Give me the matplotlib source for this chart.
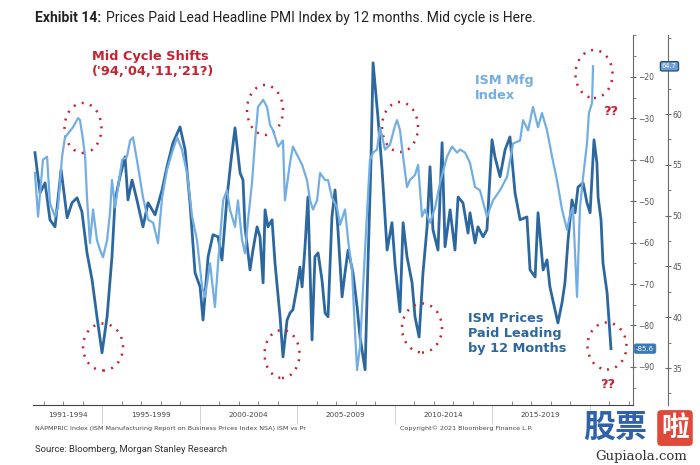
import matplotlib

matplotlib.use("Agg")
import matplotlib.pyplot as plt
from matplotlib.patches import Ellipse
from matplotlib.ticker import MultipleLocator
from matplotlib.transforms import blended_transform_factory

# ============================================================================
# Data
# ============================================================================

# ISM Prices Paid, shifted 12 months forward, plotted inverted (inner axis)
prices_year = [
    1991.56, 1991.82, 1992.08, 1992.33, 1992.59, 1992.90, 1993.21, 1993.46,
    1993.72, 1993.97, 1994.23, 1994.49, 1994.74, 1995.00, 1995.26, 1995.51,
    1995.67, 1995.92, 1996.18, 1996.33, 1996.54, 1996.79, 1997.10, 1997.36,
    1997.72, 1998.08, 1998.33, 1998.64, 1999.00, 1999.26, 1999.51, 1999.77,
    2000.03, 2000.18, 2000.44, 2000.69, 2000.95, 2001.15, 2001.41, 2001.62,
    2001.82, 2002.08, 2002.23, 2002.33, 2002.59, 2002.74, 2002.95, 2003.10,
    2003.26, 2003.36, 2003.51, 2003.72, 2003.87, 2004.13, 2004.28, 2004.49,
    2004.64, 2004.79, 2005.00, 2005.15, 2005.26, 2005.41, 2005.56, 2005.77,
    2005.92, 2006.08, 2006.28, 2006.44, 2006.59, 2006.79, 2006.95, 2007.10,
    2007.31, 2007.46, 2007.62, 2007.87, 2008.08, 2008.23, 2008.49, 2008.64,
    2008.79, 2008.90, 2009.15, 2009.36, 2009.62, 2009.87, 2010.03, 2010.28,
    2010.44, 2010.64, 2010.90, 2011.05, 2011.26, 2011.46, 2011.67, 2011.82,
    2011.97, 2012.23, 2012.44, 2012.59, 2012.85, 2013.10, 2013.26, 2013.51,
    2013.77, 2013.87, 2014.13, 2014.28, 2014.54, 2014.74, 2015.00, 2015.15,
    2015.41, 2015.67, 2015.92, 2016.18, 2016.44, 2016.79, 2016.95, 2017.21,
    2017.36, 2017.62, 2017.82, 2017.97, 2018.23, 2018.38, 2018.59, 2018.74,
    2018.90, 2019.10, 2019.26, 2019.41, 2019.67, 2019.87, 2020.03, 2020.23,
    2020.38, 2020.44, 2020.59, 2020.69, 2020.90, 2021.10,
]
prices_val = [
    -38.3, -48.0, -45.6, -54.5, -56.2, -42.4, -54.0, -50.4,
    -49.2, -52.6, -62.5, -69.0, -77.9, -86.6, -77.9, -63.4,
    -49.7, -44.1, -39.3, -49.7, -44.9, -49.7, -56.2, -50.4,
    -53.3, -47.3, -41.7, -35.9, -32.1, -37.6, -50.4, -67.3,
    -70.7, -78.7, -63.4, -58.1, -58.6, -64.2, -49.0, -40.0,
    -32.3, -43.2, -44.9, -56.2, -66.6, -61.8, -56.2, -58.6,
    -69.7, -52.1, -56.2, -54.5, -64.9, -77.9, -87.6, -78.7,
    -77.0, -76.2, -70.7, -65.9, -70.7, -61.0, -49.0, -83.5,
    -63.4, -62.5, -69.0, -77.0, -77.9, -53.8, -47.3, -56.9,
    -73.1, -67.3, -61.8, -67.3, -75.5, -82.8, -90.7, -64.9,
    -40.8, -16.6, -29.7, -42.4, -61.8, -55.2, -65.4, -76.7,
    -55.2, -63.4, -69.7, -77.9, -82.8, -67.3, -56.2, -41.7,
    -56.9, -61.8, -35.9, -61.0, -52.1, -61.8, -49.0, -50.4,
    -57.7, -52.8, -60.1, -56.2, -58.6, -56.9, -35.2, -39.3,
    -44.1, -37.6, -34.5, -48.0, -54.5, -53.8, -66.6, -68.3,
    -52.8, -66.6, -64.2, -70.7, -76.2, -79.4, -74.5, -69.7,
    -59.3, -49.7, -52.8, -46.6, -45.6, -50.4, -52.8, -35.2,
    -40.8, -49.0, -54.5, -64.9, -72.1, -85.6,
]

# ISM Manufacturing index (outer axis)
ism_year = [
    1991.56, 1991.72, 1991.97, 1992.18, 1992.33, 1992.59, 1992.74, 1992.95,
    1993.10, 1993.51, 1993.77, 1993.87, 1994.03, 1994.13, 1994.23, 1994.38,
    1994.54, 1994.74, 1994.90, 1995.05, 1995.26, 1995.41, 1995.51, 1995.67,
    1995.82, 1996.03, 1996.28, 1996.44, 1996.59, 1996.85, 1997.10, 1997.36,
    1997.62, 1997.87, 1998.08, 1998.33, 1998.59, 1998.85, 1999.10, 1999.36,
    1999.62, 1999.87, 2000.13, 2000.28, 2000.54, 2000.79, 2000.95, 2001.21,
    2001.41, 2001.56, 2001.82, 2001.97, 2002.18, 2002.33, 2002.49, 2002.69,
    2002.85, 2003.00, 2003.26, 2003.46, 2003.62, 2003.77, 2004.03, 2004.28,
    2004.38, 2004.64, 2004.79, 2005.00, 2005.26, 2005.51, 2005.67, 2005.82,
    2006.03, 2006.18, 2006.44, 2006.59, 2006.79, 2007.05, 2007.21, 2007.46,
    2007.62, 2007.82, 2007.97, 2008.08, 2008.23, 2008.38, 2008.59, 2008.74,
    2008.90, 2009.10, 2009.26, 2009.51, 2009.77, 2010.03, 2010.13, 2010.28,
    2010.44, 2010.64, 2010.79, 2011.05, 2011.21, 2011.41, 2011.56, 2011.82,
    2012.08, 2012.33, 2012.69, 2012.95, 2013.21, 2013.36, 2013.62, 2013.87,
    2014.13, 2014.38, 2014.74, 2015.05, 2015.41, 2015.77, 2016.08, 2016.44,
    2016.59, 2016.85, 2017.10, 2017.36, 2017.56, 2017.82, 2018.08, 2018.33,
    2018.59, 2018.85, 2019.00, 2019.15, 2019.36, 2019.51, 2019.67, 2019.87,
    2019.97, 2020.13, 2020.18,
]
ism_val = [
    54.2, 49.9, 55.5, 55.8, 51.2, 49.9, 50.8, 55.8,
    57.7, 58.7, 59.6, 59.4, 57.4, 55.8, 51.8, 47.3,
    50.6, 47.6, 46.6, 45.9, 47.6, 50.3, 53.5, 50.8,
    52.8, 55.5, 55.8, 57.4, 57.7, 54.8, 51.8, 49.6,
    49.3, 47.3, 51.8, 54.5, 56.2, 57.7, 56.5, 54.2,
    49.9, 47.6, 43.0, 42.0, 45.3, 41.0, 45.3, 51.5,
    52.5, 50.6, 48.9, 51.5, 47.6, 46.3, 49.6, 53.2,
    57.4, 60.7, 61.4, 60.7, 58.9, 58.4, 56.8, 57.4,
    51.5, 55.2, 56.8, 56.0, 55.0, 53.5, 51.5, 50.6,
    51.5, 54.2, 53.5, 53.5, 51.8, 50.8, 49.1, 50.6,
    47.6, 44.6, 38.7, 34.8, 37.1, 42.7, 50.3, 55.5,
    56.2, 56.5, 58.7, 56.5, 57.0, 58.9, 59.4, 58.4,
    55.8, 52.8, 53.5, 54.0, 55.0, 49.9, 50.6, 49.3,
    50.8, 53.2, 55.8, 56.8, 56.2, 56.5, 56.2, 55.2,
    52.8, 52.5, 49.9, 51.5, 52.5, 53.8, 57.1, 57.4,
    59.4, 58.4, 60.7, 58.7, 60.1, 58.4, 55.8, 53.5,
    50.6, 48.6, 50.1, 50.8, 42.0, 50.8, 53.8, 57.1,
    60.1, 61.1, 64.7,
]

period_labels = ["1991-1994", "1995-1999", "2000-2004", "2005-2009",
                 "2010-2014", "2015-2019"]
period_centers = [1993.23, 1997.5, 2002.5, 2007.5, 2012.5, 2017.5]

# ============================================================================
# Style
# ============================================================================

W, H = 700, 465
DARK = "#2c679f"
LIGHT = "#72aee3"
RED = "#c8202f"
AXIS_GRAY = "#6a6a6a"
TICK_TXT = "#555555"

fig = plt.figure(figsize=(W / 100, H / 100), dpi=100)

# plot area in pixels: x 33..633, y 35..405
ax = fig.add_axes([33 / W, 1 - 405 / H, 600 / W, 370 / H])
ax2 = ax.twinx()

ax.plot(prices_year, prices_val, color=DARK, linewidth=2.0, zorder=2,
        solid_joinstyle="round")
ax2.plot(ism_year, ism_val, color=LIGHT, linewidth=1.6, zorder=2,
         solid_joinstyle="round")

ax.set_xlim(1991.46, 2022.23)
ax.set_ylim(-99.2, -9.9)
ax2.set_ylim(31.36, 67.78)

for a in (ax, ax2):
    a.spines["top"].set_visible(False)
    a.spines["left"].set_visible(False)
    a.patch.set_visible(False)
ax2.spines["bottom"].set_visible(False)
ax.spines["right"].set_color(AXIS_GRAY)
ax.spines["right"].set_linewidth(0.8)
ax.spines["bottom"].set_color("#444444")
ax.spines["bottom"].set_linewidth(0.8)
ax2.spines["right"].set_position(("outward", 25))
ax2.spines["right"].set_color(AXIS_GRAY)
ax2.spines["right"].set_linewidth(0.8)

# inner axis (prices paid)
ax.yaxis.tick_right()
ax.set_yticks(range(-90, -19, 10))
ax.yaxis.set_minor_locator(MultipleLocator(5))
ax.tick_params(axis="y", which="major", direction="inout", length=4, width=0.8,
               color=AXIS_GRAY, labelsize=5.5, labelcolor=TICK_TXT, pad=1.5)
ax.tick_params(axis="y", which="minor", direction="out", length=2, width=0.6,
               color=AXIS_GRAY)

# outer axis (ISM)
ax2.set_yticks(range(35, 61, 5))
ax2.yaxis.set_minor_locator(MultipleLocator(2.5))
ax2.tick_params(axis="y", which="major", direction="inout", length=4,
                width=0.8, color=AXIS_GRAY, labelsize=5.5,
                labelcolor=TICK_TXT, pad=1.5)
ax2.tick_params(axis="y", which="minor", direction="out", length=2, width=0.6,
                color=AXIS_GRAY)

# x axis: separators every 5 years, small yearly ticks
ax.set_xticks(range(1995, 2021, 5))
ax.xaxis.set_minor_locator(MultipleLocator(1))
ax.tick_params(axis="x", which="major", direction="out", length=14,
               width=0.6, color="#c8c8c8", labelbottom=False)
ax.tick_params(axis="x", which="minor", direction="in", length=3,
               width=0.6, color="#777777")
xtrans = blended_transform_factory(ax.transData, ax.transAxes)
for lab, cx in zip(period_labels, period_centers):
    ax.text(cx, -0.018, lab, transform=xtrans, ha="center", va="top",
            fontsize=5.2, color="#444444", family="DejaVu Sans")

# value tags at the end of each series
tag_trans2 = blended_transform_factory(ax.transAxes, ax2.transData)
ax2.text(1.0 + 29 / 600, ism_val[-1], f"{ism_val[-1]:.1f}", transform=tag_trans2,
         ha="left", va="center", fontsize=4.8, color="white",
         bbox=dict(boxstyle="round,pad=0.25", fc="#6d9fd2", ec="#1f4e79",
                   lw=0.9), zorder=5, clip_on=False)
tag_trans1 = blended_transform_factory(ax.transAxes, ax.transData)
ax.text(1.0 + 3 / 600, prices_val[-1], f"{prices_val[-1]:.1f}",
        transform=tag_trans1, ha="left", va="center", fontsize=5,
        color="white",
        bbox=dict(boxstyle="round,pad=0.25", fc="#3c78b4", ec="#3c78b4",
                  lw=0.5), zorder=5, clip_on=False)

# dotted red circles (pixel centre / size in the reference)
circle_px = [
    (83, 128, 37, 50), (103, 347, 40, 47), (265, 110, 36, 50),
    (282, 354, 35, 48), (400, 127, 36, 50), (422, 328, 40, 49),
    (594, 74, 37, 48), (607, 346, 39, 47),
]
for cx, cy, w, h in circle_px:
    ax.add_patch(Ellipse(((cx - 33) / 600, 1 - (cy - 35) / 370),
                         w / 600, h / 370, transform=ax.transAxes,
                         fill=False, edgecolor=RED, linewidth=1.8,
                         linestyle=(0, (0.8, 2.6)), zorder=4,
                         clip_on=False))

# annotations
ann = dict(family="DejaVu Sans", fontweight="bold", fontsize=9.3,
           transform=fig.transFigure, va="top", ha="left", linespacing=1.2)
fig.text(92 / W, 1 - 50 / H, "Mid Cycle Shifts\n('94,'04,'11,'21?)",
         color=RED, **ann)
fig.text(475 / W, 1 - 74 / H, "ISM Mfg\nIndex", color=LIGHT, **ann)
fig.text(468 / W, 1 - 312 / H, "ISM Prices\nPaid Leading\nby 12 Months",
         color=DARK, **ann)
fig.text(603 / W, 1 - 105 / H, "??", color=RED, **ann)
fig.text(600 / W, 1 - 378 / H, "??", color=RED, **ann)

# title
t1 = fig.text(35 / W, 1 - 18 / H, "Exhibit 14:", fontsize=10, family="Roboto",
              fontweight="bold", color="#222222", va="center", ha="left")
fig.canvas.draw()
bb = t1.get_window_extent()
fig.text(bb.x1 / W + 5 / W, 1 - 18 / H,
         "Prices Paid Lead Headline PMI Index by 12 months. Mid cycle is Here.",
         fontsize=10, family="Roboto", color="#222222", va="center", ha="left")

# footer
fig.text(35 / W, 1 - 428 / H,
         "NAPMPRIC Index (ISM Manufacturing Report on Business Prices Index NSA) ISM vs Pr",
         fontsize=4.6, color="#444444", va="center", ha="left")
fig.text(400 / W, 1 - 428 / H, "Copyright\u00a9 2021 Bloomberg Finance L.P.",
         fontsize=4.6, color="#444444", va="center", ha="left")
fig.text(35 / W, 1 - 449 / H, "Source: Bloomberg, Morgan Stanley Research",
         fontsize=6.8, family="Roboto", color="#333333", va="center",
         ha="left")

# site watermark
fig.text(583 / W, 1 - 428 / H, "股票", fontsize=23, fontweight="bold",
         family=["Noto Sans CJK SC", "DejaVu Sans"], color="#2f62a8",
         va="center", ha="left")
fig.text(675 / W, 1 - 428 / H, "啦", fontsize=20, fontweight="bold",
         family=["Noto Sans CJK SC", "DejaVu Sans"], color="white",
         va="center", ha="center",
         bbox=dict(boxstyle="round,pad=0.14", fc="#e0483a", ec="none"))
fig.text(641 / W, 1 - 456 / H, "Gupiaola.com", fontsize=9.5,
         family="DejaVu Serif", color="#333333", va="center", ha="center")

fig.savefig("out.png", dpi=100)
